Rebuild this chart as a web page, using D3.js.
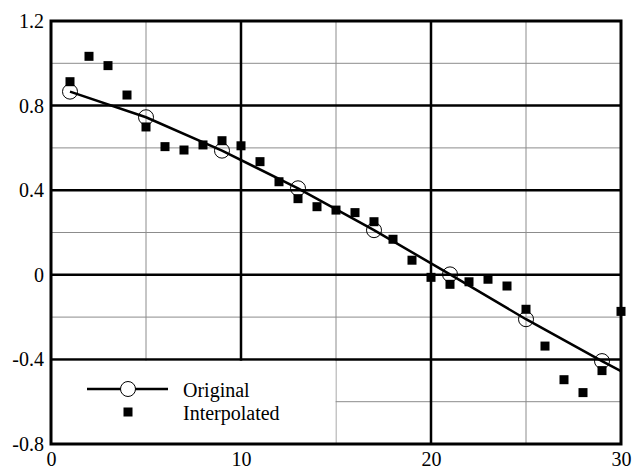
<!DOCTYPE html>
<html>
<head>
<meta charset="utf-8">
<script src="https://cdn.jsdelivr.net/npm/d3@7"></script>
<style>
  body { margin: 0; background: #fff; }
  svg { display: block; }
</style>
</head>
<body>
<svg id="chart"></svg>
<script>
// Original samples (circles joined by the line)
const original_x = [1, 5, 9, 13, 17, 21, 25, 29];
const original_y = [0.866, 0.745, 0.587, 0.409, 0.211, 0.002, -0.21, -0.408];
// The line runs on to the right edge
const line_end_x = 30;
const line_end_y = -0.455;

// Interpolated samples (squares)
const interp_x = d3.range(1, 31);
const interp_y = [0.913, 1.033, 0.989, 0.850, 0.699, 0.606, 0.590, 0.614, 0.634, 0.610,
    0.535, 0.440, 0.360, 0.322, 0.306, 0.294, 0.251, 0.168, 0.069, -0.012,
    -0.045, -0.033, -0.021, -0.053, -0.163, -0.337, -0.496, -0.557, -0.453, -0.173];

// Ticks
const x_ticks = [0, 10, 20, 30];
const x_minor = [5, 15, 25];
const y_ticks = [-0.8, -0.4, 0, 0.4, 0.8, 1.2];
const y_minor = [-0.6, -0.2, 0.2, 0.6, 1.0];

const legend_labels = ["Original", "Interpolated"];

// Dimensions
const width = 633, height = 470;
const plot_left = 51, plot_right = 621, plot_top = 21, plot_bottom = 444;
const font = '"Liberation Serif", "Times New Roman", Times, "DejaVu Serif", serif';

const svg = d3.select('#chart')
    .attr('width', width)
    .attr('height', height);

const x = d3.scaleLinear().domain([0, 30]).range([plot_left, plot_right]);
const y = d3.scaleLinear().domain([-0.8, 1.2]).range([plot_bottom, plot_top]);

// Minor grid lines (thin gray)
svg.append('g').selectAll('line')
    .data(x_minor).enter().append('line')
    .attr('x1', d => x(d)).attr('x2', d => x(d))
    .attr('y1', plot_top).attr('y2', plot_bottom)
    .attr('stroke', '#8c8c8c').attr('stroke-width', 1);
svg.append('g').selectAll('line')
    .data(y_minor).enter().append('line')
    .attr('x1', plot_left).attr('x2', plot_right)
    .attr('y1', d => y(d)).attr('y2', d => y(d))
    .attr('stroke', '#8c8c8c').attr('stroke-width', 1);

// Major grid lines (thick black)
svg.append('g').selectAll('line')
    .data(x_ticks.slice(1, -1)).enter().append('line')
    .attr('x1', d => x(d)).attr('x2', d => x(d))
    .attr('y1', plot_top).attr('y2', plot_bottom)
    .attr('stroke', '#000').attr('stroke-width', 2.5);
svg.append('g').selectAll('line')
    .data(y_ticks.slice(1, -1)).enter().append('line')
    .attr('x1', plot_left).attr('x2', plot_right)
    .attr('y1', d => y(d)).attr('y2', d => y(d))
    .attr('stroke', '#000').attr('stroke-width', 2.5);

// Legend background hides the grid in the lower left corner
svg.append('rect')
    .attr('x', x(0))
    .attr('y', y(-0.4) + 1.5)
    .attr('width', x(15) - x(0) - 0.5)
    .attr('height', y(-0.8) - y(-0.4) - 1.5)
    .attr('fill', '#fff');

// Plot frame
svg.append('rect')
    .attr('x', plot_left).attr('y', plot_top)
    .attr('width', plot_right - plot_left).attr('height', plot_bottom - plot_top)
    .attr('fill', 'none')
    .attr('stroke', '#000').attr('stroke-width', 3);

// Axes labels through d3 axes
const fmt = d => d === 0 ? '0' : d3.format('.1f')(d).replace('\u2212', '-');

const y_axis = svg.append('g')
    .attr('transform', 'translate(' + (plot_left - 7) + ',0)')
    .call(d3.axisLeft(y).tickValues(y_ticks).tickSize(0).tickPadding(0).tickFormat(fmt));
const x_axis = svg.append('g')
    .attr('transform', 'translate(0,' + (plot_bottom + 8) + ')')
    .call(d3.axisBottom(x).tickValues(x_ticks).tickSize(0).tickPadding(0).tickFormat(d3.format('d')));

[y_axis, x_axis].forEach(function (a) {
    a.select('.domain').remove();
    a.attr('font-family', null).attr('font-size', null);
    a.selectAll('text')
        .attr('font-family', font)
        .attr('font-size', 20)
        .attr('fill', '#000');
});

// Original line
const line_points = original_x.map((d, i) => [d, original_y[i]]).concat([[line_end_x, line_end_y]]);
svg.append('path')
    .datum(line_points)
    .attr('d', d3.line().x(d => x(d[0])).y(d => y(d[1])))
    .attr('fill', 'none')
    .attr('stroke', '#000')
    .attr('stroke-width', 2.5);

// Original markers
svg.append('g').selectAll('circle')
    .data(original_x).enter().append('circle')
    .attr('cx', d => x(d))
    .attr('cy', (d, i) => y(original_y[i]))
    .attr('r', 7.5)
    .attr('fill', 'none')
    .attr('stroke', '#000')
    .attr('stroke-width', 1);

// Interpolated markers
const sq = 9;
svg.append('g').selectAll('rect')
    .data(interp_x).enter().append('rect')
    .attr('x', d => x(d) - sq / 2)
    .attr('y', (d, i) => y(interp_y[i]) - sq / 2)
    .attr('width', sq).attr('height', sq)
    .attr('fill', '#000');

// Legend
const legend = svg.append('g');
legend.append('line')
    .attr('x1', 87).attr('x2', 168)
    .attr('y1', 389).attr('y2', 389)
    .attr('stroke', '#000').attr('stroke-width', 2.5);
legend.append('circle')
    .attr('cx', 128).attr('cy', 389).attr('r', 7.5)
    .attr('fill', '#fff').attr('stroke', '#000').attr('stroke-width', 1);
legend.append('rect')
    .attr('x', 128 - sq / 2).attr('y', 412 - sq / 2)
    .attr('width', sq).attr('height', sq)
    .attr('fill', '#000');
legend.selectAll('text')
    .data(legend_labels).enter().append('text')
    .attr('x', 183)
    .attr('y', (d, i) => 397 + i * 23)
    .text(d => d)
    .attr('font-family', font)
    .attr('font-size', 20)
    .attr('fill', '#000');
</script>
</body>
</html>
